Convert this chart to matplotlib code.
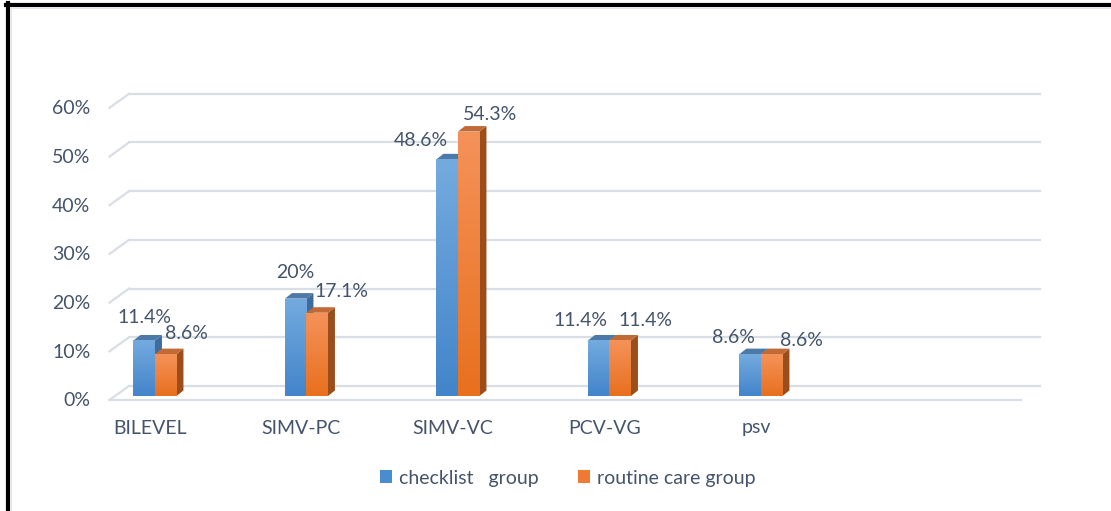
import matplotlib.pyplot as plt
import numpy as np
from matplotlib.colors import LinearSegmentedColormap
from matplotlib.lines import Line2D
from matplotlib.patches import Patch, Polygon

categories = ["BILEVEL", "SIMV-PC", "SIMV-VC", "PCV-VG", "psv"]
checklist = [11.4, 20.0, 48.6, 11.4, 8.6]
routine = [8.6, 17.1, 54.3, 11.4, 8.6]
checklist_labels = ["11.4%", "20%", "48.6%", "11.4%", "8.6%"]
routine_labels = ["8.6%", "17.1%", "54.3%", "11.4%", "8.6%"]
series_names = ["checklist   group", "routine care group"]
yticks = [0, 10, 20, 30, 40, 50, 60]

# label nudges (pixels), Excel moved them around to avoid overlaps
checklist_dx = [0, 0, -26, -18, -17]
checklist_dy = [23, 26, 19, 20, 17]
routine_dx = [21, 24, 21, 25, 30]
routine_dy = [21, 21, 17, 20, 14]

TEXT = "#44546A"
GRID = "#D9DEE5"
plt.rcParams["font.family"] = ["Lato", "DejaVu Sans"]
FS = 14

W, H = 1111, 511
fig = plt.figure(figsize=(W / 100, H / 100), dpi=100)

# axes placed in pixel terms so the pseudo-3D offsets can be given in pixels
AX_L, AX_R, AX_B, AX_T = 109.5, 1018.5, 396.0, 103.8
ax = fig.add_axes([AX_L / W, 1 - AX_B / H, (AX_R - AX_L) / W, (AX_B - AX_T) / H])
XMIN, XMAX, YMAX = -0.3, 5.7, 60
sx = (XMAX - XMIN) / (AX_R - AX_L)
sy = YMAX / (AX_B - AX_T)

# back wall gridlines + left diagonal of the floor/wall
for v in yticks:
    ax.plot([XMIN + 19.5 * sx, XMAX + 21.5 * sx], [v + 10 * sy] * 2,
            color=GRID, lw=1.6, zorder=1, clip_on=False)
    ax.plot([XMIN, XMIN + 19.5 * sx], [v - 4 * sy, v + 10 * sy],
            color=GRID, lw=1.6, zorder=1, clip_on=False)
    ax.annotate(f"{v}%", (XMIN, v), xytext=(-19, -5), textcoords="offset pixels",
                ha="right", va="center", fontsize=FS, color=TEXT)
ax.plot([XMIN, XMAX + 2.5 * sx], [-4 * sy] * 2, color=GRID, lw=1.6,
        zorder=1, clip_on=False)

x = np.arange(len(categories))
w = 21.5 * sx
ddx, ddy = 7 * sx, 5.5 * sy
grad = np.linspace(0, 1, 128).reshape(-1, 1)


def draw_series(xs, vals, top_c, bot_c, lid_c, side_c, z):
    cmap = LinearSegmentedColormap.from_list("g", [top_c, bot_c])
    bars = ax.bar(xs, vals, width=w, color=bot_c, linewidth=0, zorder=z)
    for rect in bars:
        x0 = rect.get_x()
        x1 = x0 + rect.get_width()
        h = rect.get_height()
        ax.add_patch(Polygon([(x1, 0), (x1 + ddx, ddy), (x1 + ddx, h + ddy), (x1, h)],
                             closed=True, facecolor=side_c, lw=0, zorder=z - 0.5))
        ax.add_patch(Polygon([(x0, h), (x0 + ddx, h + ddy), (x1 + ddx, h + ddy), (x1, h)],
                             closed=True, facecolor=lid_c, lw=0, zorder=z - 0.5))
        im = ax.imshow(grad, cmap=cmap, extent=(x0, x1, 0, h), aspect="auto",
                       origin="upper", zorder=z + 0.1)
        im.set_clip_path(rect)
    return bars


draw_series(x - w / 2, checklist, "#74ABDF", "#4384CA", "#4D79A8", "#3F6C9C", 3)
draw_series(x + w / 2, routine, "#F5925A", "#E8701E", "#C26A35", "#9A4E1C", 5)

for i in range(len(categories)):
    ax.annotate(checklist_labels[i], (x[i] - w / 2, checklist[i]),
                xytext=(checklist_dx[i], checklist_dy[i]), textcoords="offset pixels",
                ha="center", va="center", fontsize=FS, color=TEXT, zorder=8)
    ax.annotate(routine_labels[i], (x[i] + w / 2, routine[i]),
                xytext=(routine_dx[i], routine_dy[i]), textcoords="offset pixels",
                ha="center", va="center", fontsize=FS, color=TEXT, zorder=8)
    ax.annotate(categories[i], (x[i], 0), xytext=(-5, -32), textcoords="offset pixels",
                ha="center", va="center", fontsize=FS, color=TEXT)

ax.set_xlim(XMIN, XMAX)
ax.set_ylim(0, YMAX)
ax.axis("off")

handles = [Patch(facecolor="#4A8CD0", lw=0), Patch(facecolor="#EE7A33", lw=0)]
fig.legend(handles, series_names, loc="center", bbox_to_anchor=(0.511, 0.064),
           ncol=2, frameon=False, fontsize=FS, handlelength=0.65, handleheight=0.65,
           handletextpad=0.35, columnspacing=2.0, labelcolor=TEXT)

# the black frame around the picture (top and left edges only are visible)
fig.add_artist(Line2D([6 / W, 1], [1 - 5 / H] * 2, color="black", lw=3.0))
fig.add_artist(Line2D([8 / W] * 2, [0, 1 - 3 / H], color="black", lw=3.0))
fig.add_artist(Line2D([11 / W, 1], [1 - 8 / H] * 2, color="#E3E7EC", lw=0.8))
fig.add_artist(Line2D([11 / W] * 2, [0, 1 - 8 / H], color="#E3E7EC", lw=0.8))

fig.savefig("out.png", dpi=100, facecolor="white")
